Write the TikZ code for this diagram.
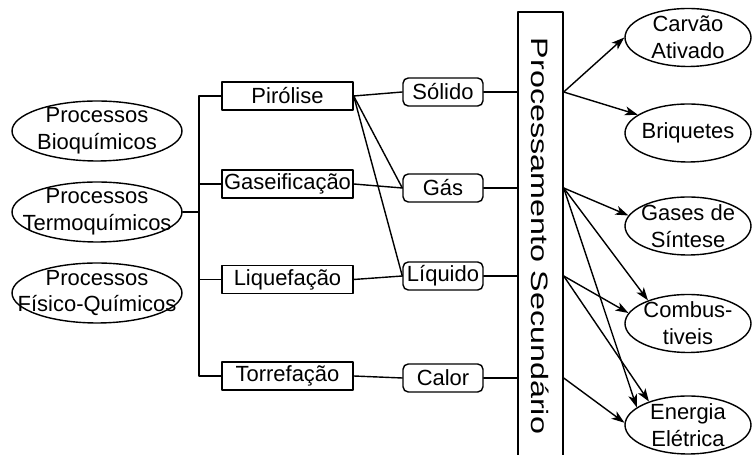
\documentclass[tikz,border=0pt]{standalone}
\usepackage{fontspec}
\setmainfont{Liberation Sans}
\usetikzlibrary{shapes.geometric, arrows.meta}
\begin{document}
\begin{tikzpicture}[x=0.02cm, y=-0.02cm, line cap=round, line join=round, line width=0.8pt, font=\fontsize{12.5}{15.3}\selectfont, >={Stealth[length=2.6mm, width=1.8mm, inset=0.7mm]}]
	\tikzset{oval/.style={draw, ellipse, align=center, inner xsep=-0.7cm, inner ysep=-0.2cm, minimum width=3.4cm, minimum height=1.2cm},
		ovalsaida/.style={oval, minimum width=2.52cm, minimum height=1.16cm},
		processo/.style={draw, rectangle, inner sep=0pt, minimum width=2.62cm, minimum height=0.56cm},
		produto/.style={draw, rounded corners=3pt, inner sep=0pt, minimum width=1.6cm, minimum height=0.56cm}}
	\useasboundingbox (0,0) rectangle (752,455);
	\node[oval] (bio) at (97,131) {Processos\\Bioquímicos};
	\node[oval] (termo) at (97,212) {Processos\\Termoquímicos};
	\node[oval] (fisico) at (97,293) {Processos\\Físico-Químicos};
	\node[processo] (piro) at (287.5,96) {Pirólise};
	\node[processo] (gasei) at (287.5,184) {Gaseificação};
	\node[processo] (liquef) at (287.5,279.5) {Liquefação};
	\node[processo] (torre) at (287.5,376) {Torrefação};
	\node[produto] (solido) at (443,92) {Sólido};
	\node[produto] (gas) at (443,188) {Gás};
	\node[produto] (liq) at (443,276) {Líquido};
	\node[produto] (calor) at (443,378) {Calor};
	\node[draw, inner sep=0pt, minimum width=0.9cm, minimum height=8.96cm] (sec) at (540.5,236) {\rotatebox{-90}{\fontsize{13.5}{16}\selectfont\scalebox{1.36}[1]{Processamento Secundário}}};
	\node[ovalsaida] (carvao) at (688,37.5) {Carvão\\Ativado};
	\node[ovalsaida] (briq) at (688,133) {Briquetes};
	\node[ovalsaida] (sintese) at (688,226) {Gases de\\Síntese};
	\node[ovalsaida] (comb) at (688,323.5) {Combus-\\tiveis};
	\node[ovalsaida] (energ) at (688,425) {Energia\\Elétrica};
	\coordinate (tronco) at (199,0);
	\draw (piro.west) -| (tronco |- torre.west) -- (torre.west);
	\draw (gasei.west) -- (gasei.west -| tronco);
	\draw (liquef.west) -- (liquef.west -| tronco);
	\draw (termo.east) -- (termo.east -| tronco);
	\draw (piro.east) -- (solido.west);
	\draw (piro.east) -- (gas.west);
	\draw (piro.east) -- (liq.west);
	\draw (gasei.east) -- (gas.west);
	\draw (liquef.east) -- (liq.west);
	\draw (torre.east) -- (calor.west);
	\draw (solido.east) -- (solido.east -| sec.west);
	\draw (gas.east) -- (gas.east -| sec.west);
	\draw (liq.east) -- (liq.east -| sec.west);
	\draw (calor.east) -- (calor.east -| sec.west);
	\coordinate (s1) at (sec.east |- solido.east);
	\coordinate (s2) at (sec.east |- gas.east);
	\coordinate (s3) at (sec.east |- liq.east);
	\coordinate (s4) at (sec.east |- calor.east);
	\draw[->] (s1) -- (carvao.west);
	\draw[->] (s1) -- (briq.160);
	\draw[->] (s2) -- (sintese.170);
	\draw[->] (s2) -- (comb.150);
	\draw[->] (s2) -- (energ.161);
	\draw[->] (s3) -- (comb.170);
	\draw[->] (s3) -- (energ.149);
	\draw[->] (s4) -- (energ.178);
\end{tikzpicture}
\end{document}
